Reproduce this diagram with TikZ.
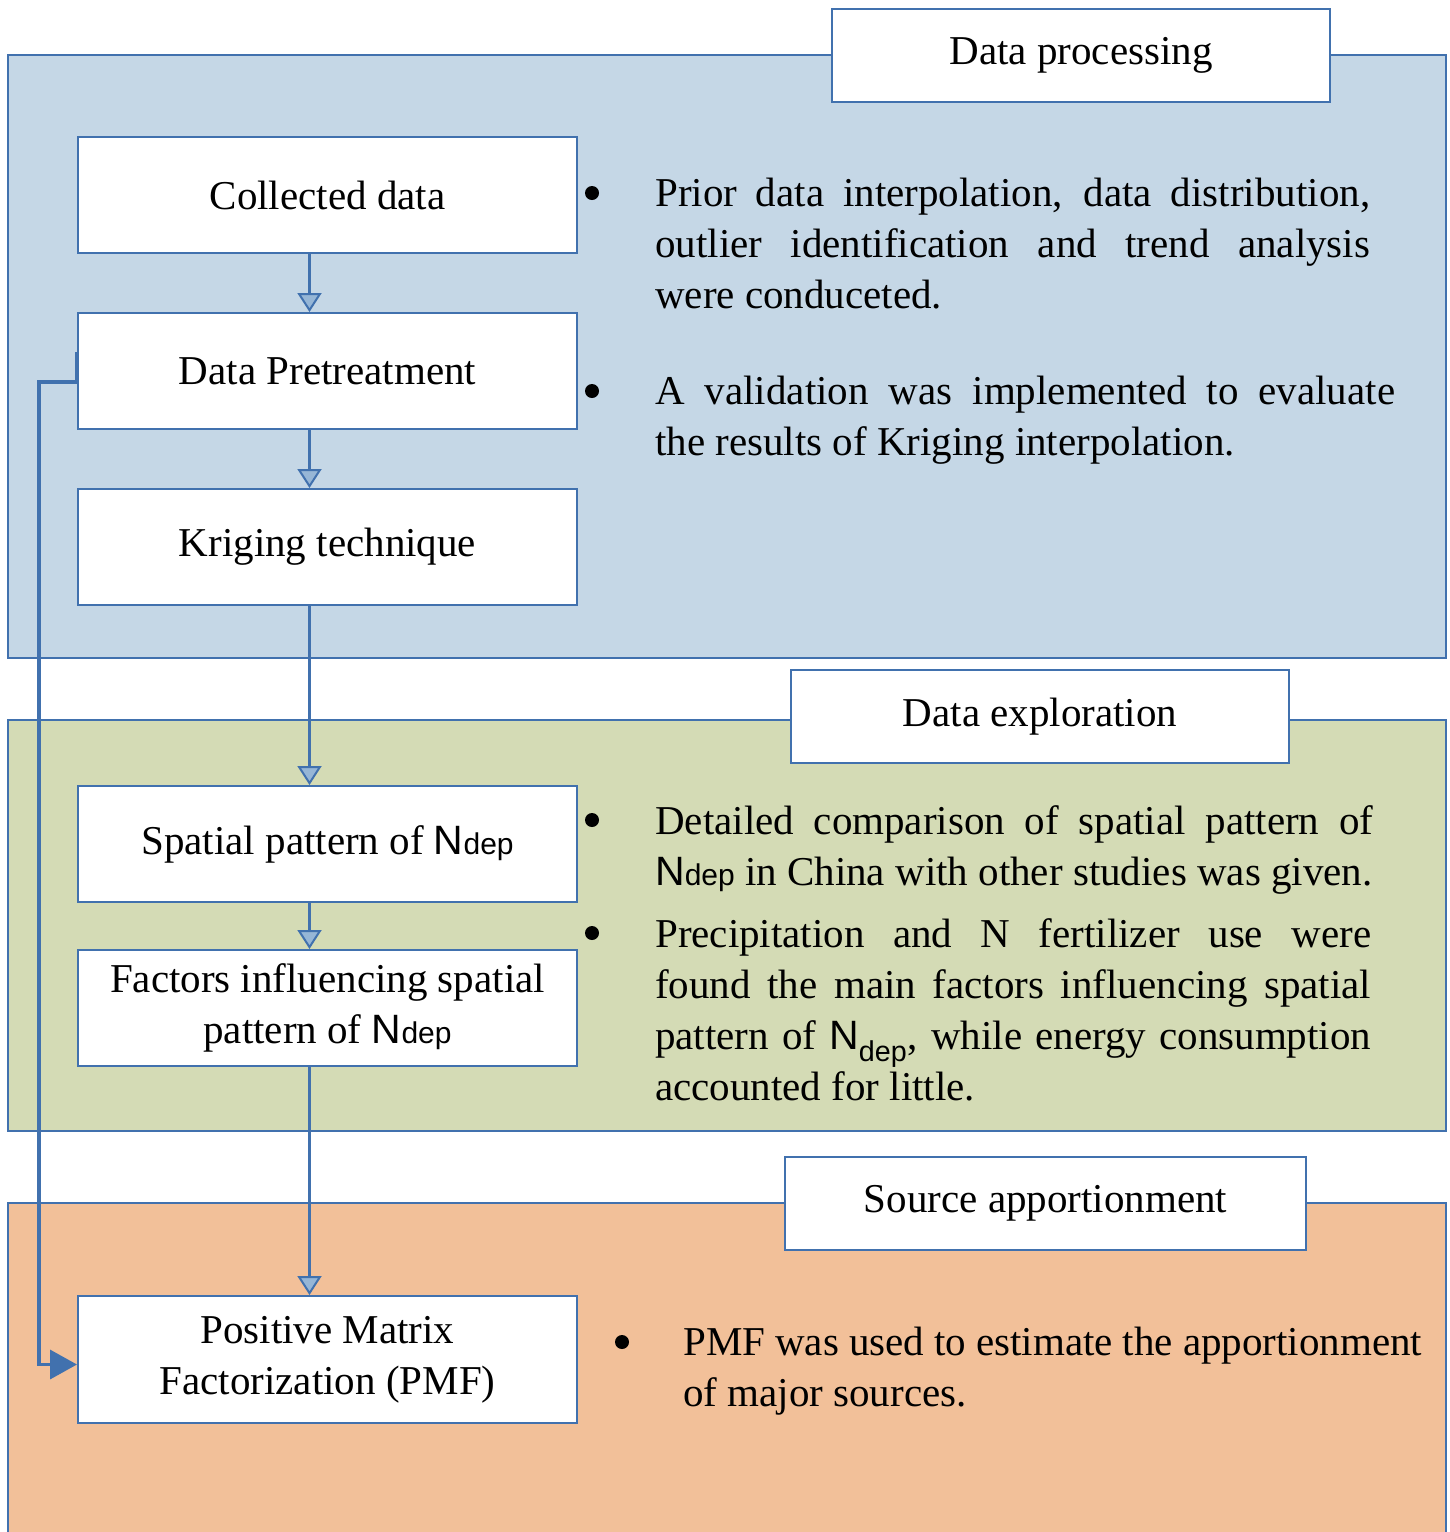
\documentclass[tikz,border=0pt]{standalone}
\usepackage{fontspec}
\setmainfont{Liberation Serif}
\newfontfamily\arialfont{Liberation Sans}
\usetikzlibrary{positioning,arrows.meta}

\definecolor{lineblue}{RGB}{65,113,174}
\definecolor{panelblue}{RGB}{197,215,230}
\definecolor{panelgreen}{RGB}{212,219,181}
\definecolor{panelorange}{RGB}{242,192,153}
\definecolor{tipfill}{RGB}{150,182,214}

\newcommand{\ndep}{{\arialfont N{\fontsize{30}{30}\selectfont dep}}}
\newcommand{\ndepsub}{{\arialfont N\textsubscript{dep}}}

\begin{document}
\begin{tikzpicture}[x=1pt, y=-1pt,
    font=\fontsize{41}{51}\selectfont,
    panel/.style={draw=lineblue, line width=1.2pt},
    stepbox/.style={draw=lineblue, line width=2pt, fill=white,
      minimum width=499pt, minimum height=116pt, align=center, inner sep=0pt},
    titlebox/.style={draw=lineblue, line width=2pt, fill=white,
      minimum height=93pt, inner sep=0pt},
    flow/.style={draw=lineblue, line width=3.5pt,
      -{Triangle[length=19pt, width=24pt, fill=tipfill, line width=2pt]}},
    link/.style={draw=lineblue, line width=3.5pt, -{Triangle[length=27pt, width=29pt]}},
    dot/.style={circle, fill=black, inner sep=0pt, minimum size=14pt},
    note/.style={anchor=north west, inner sep=0pt, align=justify}]

  \clip (0,0) rectangle (1450,1532);

  % background panels
  \draw[panel, fill=panelblue] (8,55) rectangle (1446,658);
  \draw[panel, fill=panelgreen] (8,720) rectangle (1446,1131);
  \draw[panel, fill=panelorange] (8,1203) rectangle (1446,1560);

  % panel titles
  \node[titlebox, minimum width=498pt] (proc) at (1081,55.5) {Data processing};
  \node[titlebox, minimum width=498pt] (expl) at (1040,716.5) {Data exploration};
  \node[titlebox, minimum width=521pt] (srce) at (1045.5,1203.5) {Source apportionment};

  % steps
  \node[stepbox] (col) at (327.5,195) {Collected data};
  \node[stepbox, below=58pt of col] (pre) {Data Pretreatment};
  \node[stepbox, below=58pt of pre] (kri) {Kriging technique};
  \node[stepbox] (spa) at (327.5,844) {Spatial pattern of \ndep};
  \node[stepbox, below=46pt of spa] (fac) {Factors influencing spatial\\pattern of \ndep};
  \node[stepbox, minimum height=127pt] (pmf) at (327.5,1359.5)
    {Positive Matrix\\Factorization (PMF)};

  \foreach \a/\b in {col/pre, pre/kri, kri/spa, spa/fac, fac/pmf} {
    \draw[flow] ([xshift=-18pt]\a.south) -- ([xshift=-18pt]\b.north);
  };
  \draw[link] ([yshift=19pt]pre.west) -- ([yshift=-11pt]pre.west) -- ++(-38,0)
    |- ([yshift=-5pt]pmf.west);

  % notes
  \node[dot] (d1) at (592,193) {};
  \node[note, text width=715pt] (n1) at (655,178)
    {Prior data interpolation, data distribution,\linebreak
     outlier identification and trend analysis\linebreak
     were conduceted.};
  \node[dot] (d2) at (592,391) {};
  \node[note, text width=740pt] (n2) at (655,376)
    {A validation was implemented to evaluate\linebreak
     the results of Kriging interpolation.};
  \node[dot] (d3) at (592,820) {};
  \node[note, text width=718pt] (n3) at (655,805)
    {Detailed comparison of spatial pattern of\linebreak
     \ndep{} in China with other studies was given.};
  \node[dot] (d4) at (592,933) {};
  \node[note, text width=716pt] (n4) at (655,918)
    {Precipitation and N fertilizer use were\linebreak
     found the main factors influencing spatial\linebreak
     pattern of \ndepsub, while energy consumption\linebreak
     accounted for little.};
  \node[dot] (d5) at (622,1342) {};
  \node[note, text width=739pt] (n5) at (683,1327)
    {PMF was used to estimate the apportionment\linebreak
     of major sources.};
\end{tikzpicture}
\end{document}
